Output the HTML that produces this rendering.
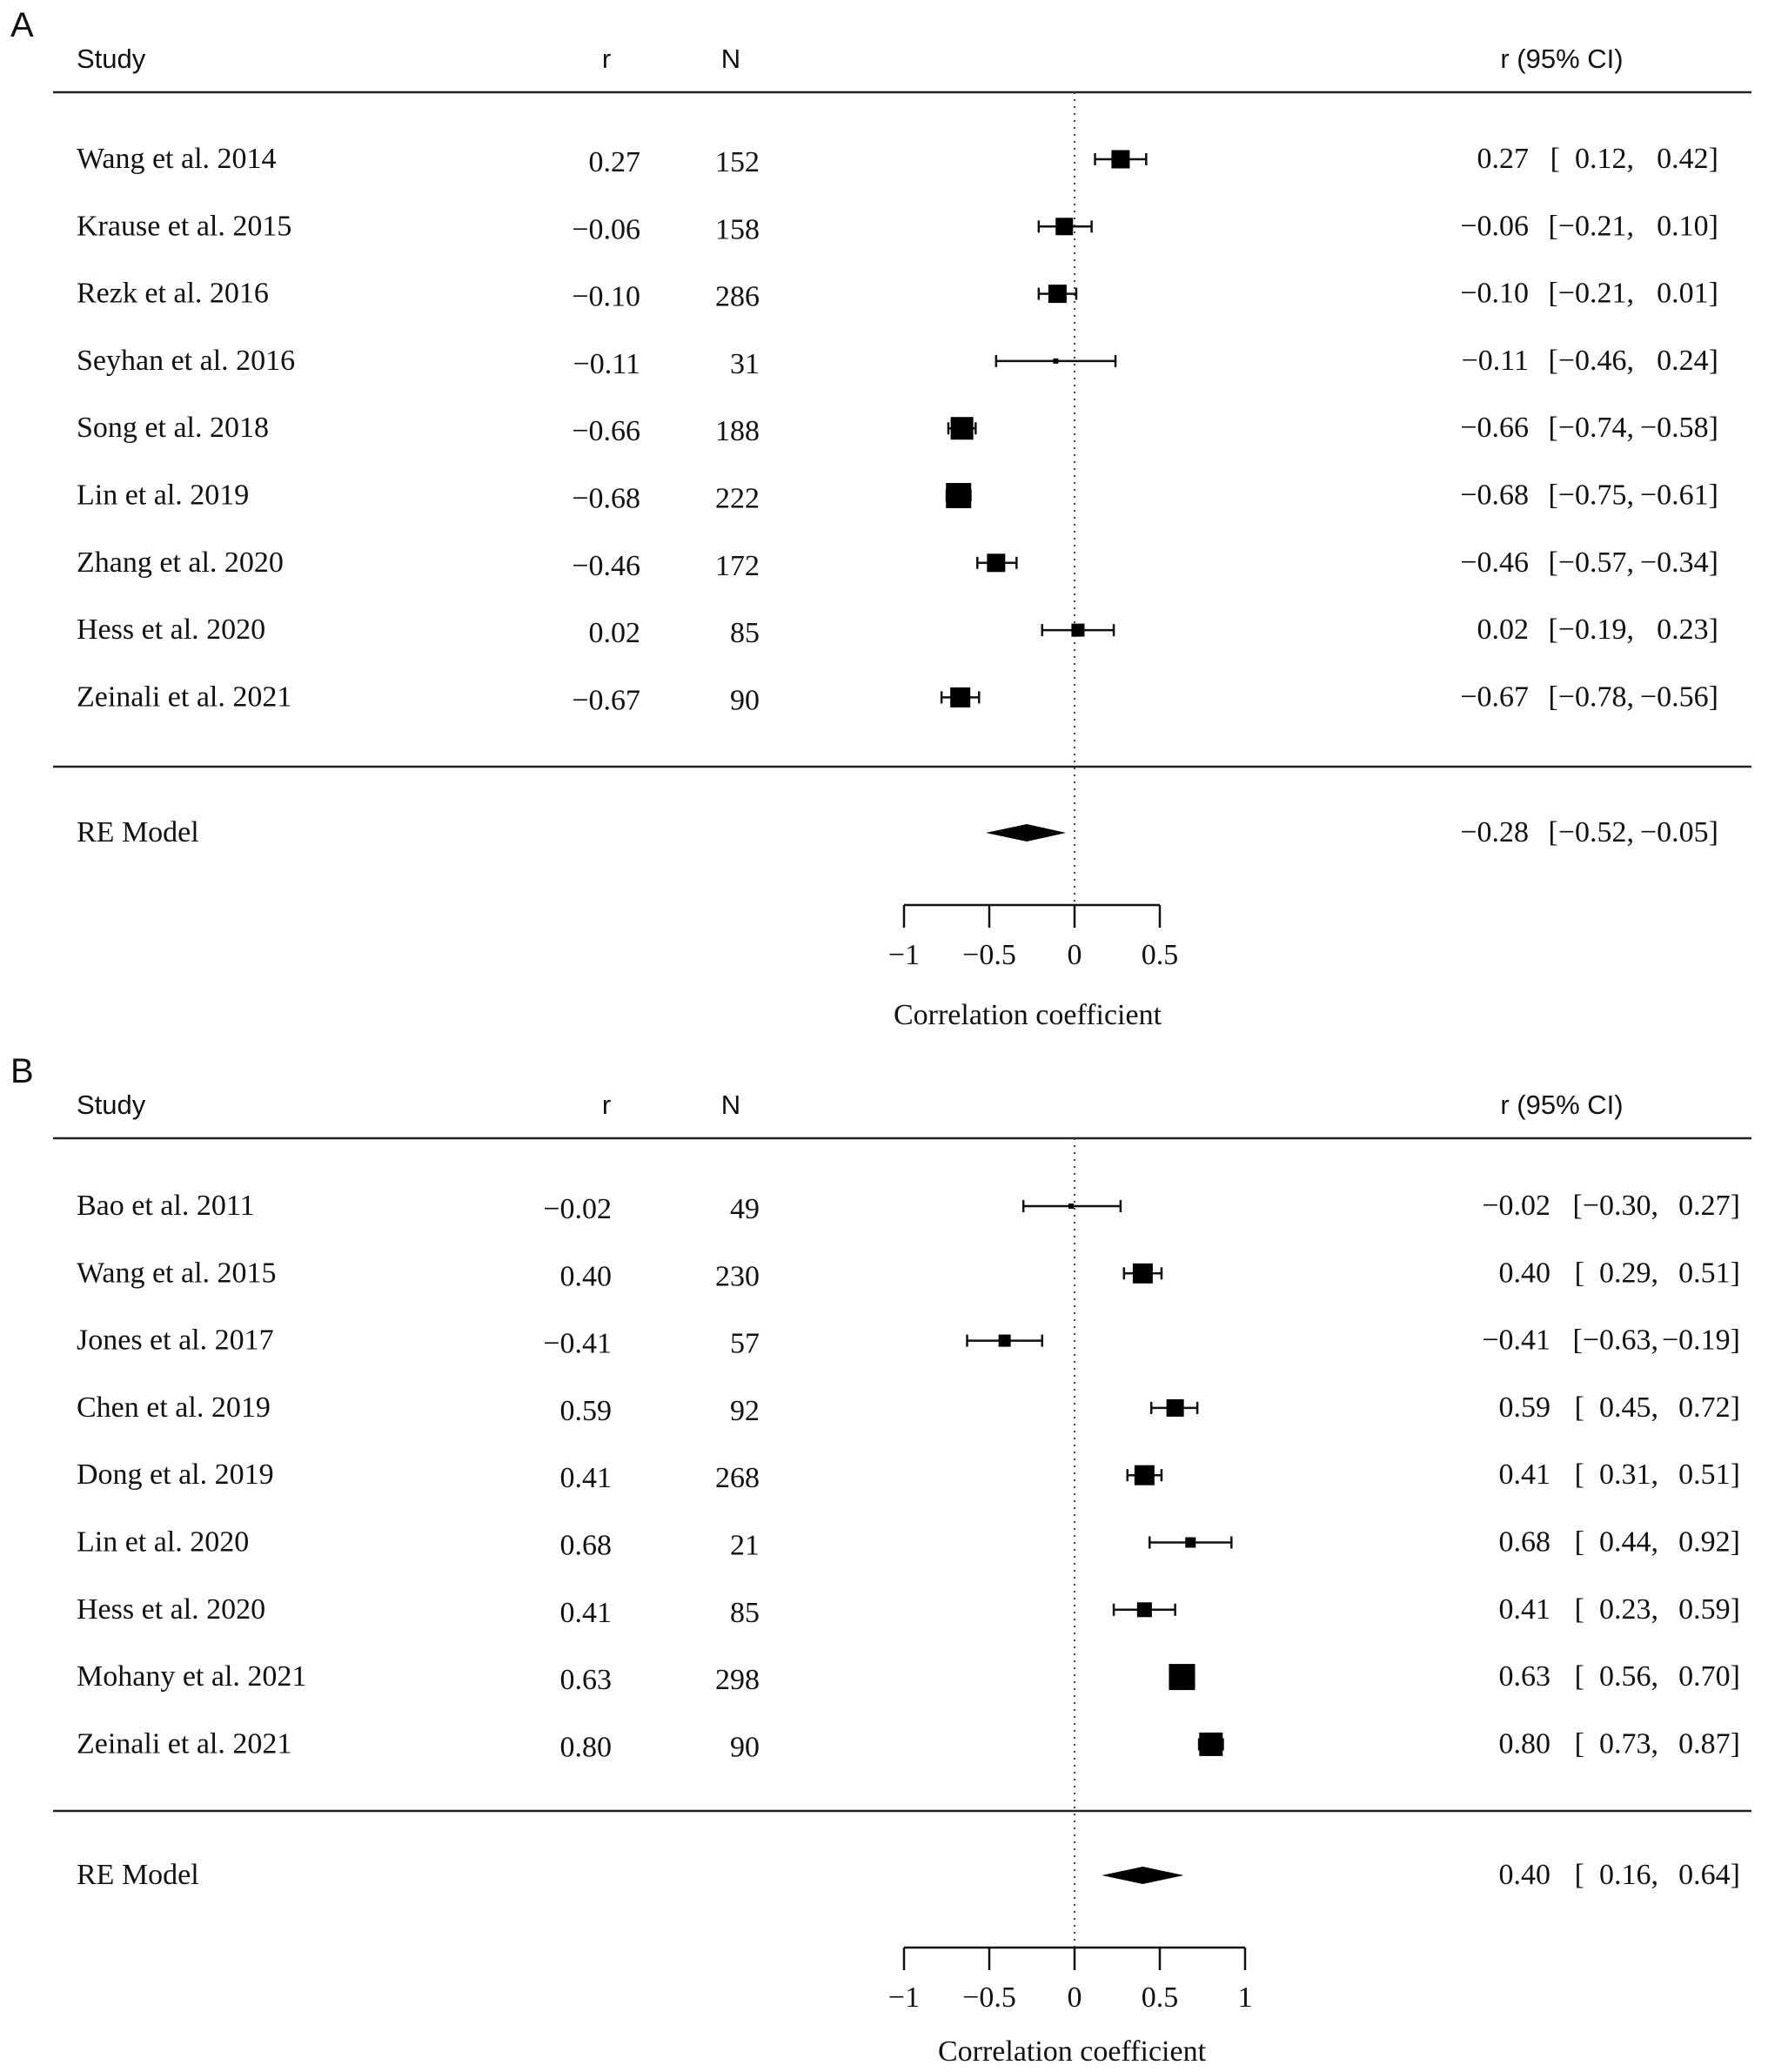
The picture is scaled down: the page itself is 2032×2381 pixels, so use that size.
<!DOCTYPE html>
<html><head><meta charset="utf-8"><style>
html,body{margin:0;padding:0;background:#fff;}
svg{display:block;}
.serif{font-family:"Liberation Serif",serif;font-size:34px;fill:#111;}
.sans{font-family:"Liberation Sans",sans-serif;font-size:31px;fill:#111;}
</style></head><body>
<svg id="chart" width="2032" height="2381" viewBox="0 0 2032 2381" xmlns="http://www.w3.org/2000/svg">
<text class="sans" x="12" y="42" style="font-size:40px">A</text>
<text class="sans" x="12" y="1244" style="font-size:40px">B</text>
</svg>
<script>
// Panel A data
const studiesA = ["Wang et al. 2014","Krause et al. 2015","Rezk et al. 2016","Seyhan et al. 2016","Song et al. 2018","Lin et al. 2019","Zhang et al. 2020","Hess et al. 2020","Zeinali et al. 2021"];
const rA = [0.27,-0.06,-0.10,-0.11,-0.66,-0.68,-0.46,0.02,-0.67];
const nA = [152,158,286,31,188,222,172,85,90];
const loA = [0.12,-0.21,-0.21,-0.46,-0.74,-0.75,-0.57,-0.19,-0.78];
const hiA = [0.42,0.10,0.01,0.24,-0.58,-0.61,-0.34,0.23,-0.56];
const wA = [21,20,21,6,26,29,21,15,23];
const reA = [-0.28,-0.52,-0.05];
const ticksA = [-1,-0.5,0,0.5];
// Panel B data
const studiesB = ["Bao et al. 2011","Wang et al. 2015","Jones et al. 2017","Chen et al. 2019","Dong et al. 2019","Lin et al. 2020","Hess et al. 2020","Mohany et al. 2021","Zeinali et al. 2021"];
const rB = [-0.02,0.40,-0.41,0.59,0.41,0.68,0.41,0.63,0.80];
const nB = [49,230,57,92,268,21,85,298,90];
const loB = [-0.30,0.29,-0.63,0.45,0.31,0.44,0.23,0.56,0.73];
const hiB = [0.27,0.51,-0.19,0.72,0.51,0.92,0.59,0.70,0.87];
const wB = [6,23,14,20,23,12,17,30,27];
const reB = [0.40,0.16,0.64];
const ticksB = [-1,-0.5,0,0.5,1];

const NS="http://www.w3.org/2000/svg";
const svg=document.getElementById('chart');
function mk(tag,attrs,txt){const e=document.createElementNS(NS,tag);for(const k in attrs)e.setAttribute(k,attrs[k]);if(txt!==undefined)e.textContent=txt;svg.appendChild(e);return e;}
function fmt(v){const s=Math.abs(v).toFixed(2);return (v<0?"\u2212":"")+s;}
function fmtLo(v){return v<0?"\u2212"+Math.abs(v).toFixed(2):"\u2002"+v.toFixed(2);}
function fmtT(v){if(v===0)return "0";return (v<0?"\u2212":"")+String(Math.abs(v));}
const x=v=>1235+196*v;

function panel(o){
  let e;
  e=mk('text',{class:'sans',x:88,y:o.hy},'Study');
  
  
  e=mk('text',{class:'sans',x:697,y:o.hy,'text-anchor':'middle'},'r');
  
  
  e=mk('text',{class:'sans',x:840,y:o.hy,'text-anchor':'middle'},'N');
  
  
  e=mk('text',{class:'sans',x:1795,y:o.hy,'text-anchor':'middle'},'r (95% CI)');
  
  
  e=mk('line',{x1:61,x2:2013,y1:o.top,y2:o.top,stroke:'#222','stroke-width':2.5});
  
  
  e=mk('line',{x1:61,x2:2013,y1:o.bot,y2:o.bot,stroke:'#222','stroke-width':2.5});
  
  
  e=mk('line',{x1:x(0),x2:x(0),y1:o.top,y2:o.ay,stroke:'#444','stroke-width':2,'stroke-dasharray':'2,6'});
  
  
  for(let i=0;i<o.studies.length;i++){
    const y=o.y0+i*77.3;
    e=mk('text',{class:'serif',x:88,y:y+10},o.studies[i]);
    
    
    e=mk('text',{class:'serif',x:o.rx,y:y+14,'text-anchor':'end'},fmt(o.r[i]));
    
    
    e=mk('text',{class:'serif',x:873,y:y+14,'text-anchor':'end'},String(o.n[i]));
    
    
    e=mk('text',{class:'serif',x:o.cx[0],y:y+10,'text-anchor':'end'},fmt(o.r[i]));
    
    
    e=mk('text',{class:'serif',x:o.cx[1],y:y+10,'text-anchor':'end'},"["+fmtLo(o.lo[i])+",");
    
    
    e=mk('text',{class:'serif',x:o.cx[2],y:y+10,'text-anchor':'end'},fmt(o.hi[i])+"]");
    
    
    e=mk('line',{x1:x(o.lo[i]),x2:x(o.hi[i]),y1:y,y2:y,stroke:'#111','stroke-width':2.5});
    
    
    e=mk('line',{x1:x(o.lo[i]),x2:x(o.lo[i]),y1:y-7,y2:y+7,stroke:'#111','stroke-width':2.5});
    
    
    e=mk('line',{x1:x(o.hi[i]),x2:x(o.hi[i]),y1:y-7,y2:y+7,stroke:'#111','stroke-width':2.5});
    
    
    const w=o.w[i];
    e=mk('rect',{x:x(o.r[i])-w/2,y:y-w/2,width:w,height:w,fill:'#000'});
    
    
  }
  e=mk('text',{class:'serif',x:88,y:o.rey+10},'RE Model');
  
  
  const re=o.re;
  e=mk('polygon',{points:`${x(re[1])},${o.rey} ${x(re[0])},${o.rey-10} ${x(re[2])},${o.rey} ${x(re[0])},${o.rey+10}`,fill:'#000'});
  
  
  e=mk('text',{class:'serif',x:o.cx[0],y:o.rey+10,'text-anchor':'end'},fmt(re[0]));
  
  
  e=mk('text',{class:'serif',x:o.cx[1],y:o.rey+10,'text-anchor':'end'},"["+fmtLo(re[1])+",");
  
  
  e=mk('text',{class:'serif',x:o.cx[2],y:o.rey+10,'text-anchor':'end'},fmt(re[2])+"]");
  
  
  const t=o.ticks;
  e=mk('line',{x1:x(t[0]),x2:x(t[t.length-1]),y1:o.ay,y2:o.ay,stroke:'#111','stroke-width':2.5});
  
  
  for(const v of t){
    e=mk('line',{x1:x(v),x2:x(v),y1:o.ay,y2:o.ay+26,stroke:'#111','stroke-width':2.5});
    
    
    e=mk('text',{class:'serif',x:x(v),y:o.ay+68,'text-anchor':'middle'},fmtT(v));
    
    
  }
  e=mk('text',{class:'serif',x:o.titleX,y:o.ay+o.tt,'text-anchor':'middle'},'Correlation coefficient');
  
  
}
panel({studies:studiesA,r:rA,n:nA,lo:loA,hi:hiA,w:wA,re:reA,ticks:ticksA,hy:78,top:106,bot:881,y0:183,rey:957,ay:1040,rx:736,cx:[1757,1878,1975],titleX:1181,tt:137});
panel({studies:studiesB,r:rB,n:nB,lo:loB,hi:hiB,w:wB,re:reB,ticks:ticksB,hy:1280,top:1308,bot:2081,y0:1386,rey:2155,ay:2238,rx:703,cx:[1782,1906,2000],titleX:1232,tt:130});
</script>
</body></html>
